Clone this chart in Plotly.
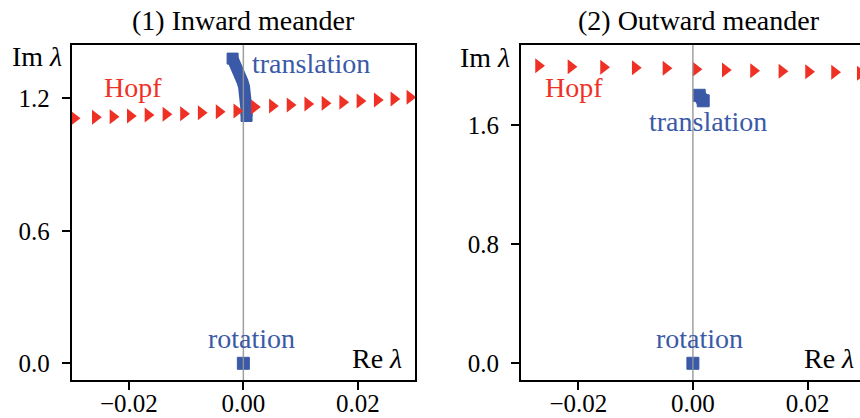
import plotly.graph_objects as go

# ---------------- data ----------------
# Panel (1) Inward meander
hopf1_re = [-0.0296, -0.02588, -0.02279, -0.01977, -0.01668, -0.01354, -0.01047, -0.00738,
            -0.00424, -0.00115, 0.00192, 0.00506, 0.00815, 0.01124, 0.01426, 0.01735,
            0.02037, 0.02339, 0.0263, 0.02909]
hopf1_im = [1.1096, 1.1141, 1.1168, 1.1200, 1.1245, 1.1277, 1.1304, 1.1350,
            1.1395, 1.1427, 1.1608, 1.1653, 1.1698, 1.1743, 1.1775, 1.1820,
            1.1880, 1.1925, 1.1970, 1.2047]
trans1_re = [-0.00188, -0.00150, -0.00115, -0.00080, -0.00045, -0.00015, 0.00012,
             0.00032, 0.00047, 0.00055, 0.00059, 0.00058, 0.00056]
trans1_im = [1.380, 1.362, 1.343, 1.321, 1.298, 1.276, 1.253,
             1.230, 1.207, 1.185, 1.162, 1.141, 1.120]
rot1_re = [0.0]
rot1_im = [0.0]

# Panel (2) Outward meander
hopf2_re = [-0.02695, -0.02129, -0.01560, -0.01007, -0.00471, 0.00052, 0.00564,
            0.01058, 0.01553, 0.02018, 0.02471, 0.02920]
hopf2_im = [1.9987, 1.992, 1.988, 1.985, 1.981, 1.975, 1.970,
            1.965, 1.961, 1.958, 1.954, 1.948]
trans2_re = [0.00110, 0.00145, 0.00180]
trans2_im = [1.800, 1.782, 1.763]
rot2_re = [0.0]
rot2_im = [0.0]

x_tickvals = [-0.02, 0.0, 0.02]
x_ticktext = ["\u22120.02", "0.00", "0.02"]
y1_tickvals = [0.0, 0.6, 1.2]
y1_ticktext = ["0.0", "0.6", "1.2"]
y2_tickvals = [0.0, 0.8, 1.6]
y2_ticktext = ["0.0", "0.8", "1.6"]

titles = ["(1) Inward meander", "(2) Outward meander"]

# ---------------- style ----------------
W, H = 860, 418
BLUE = "#3A5AA8"
RED = "#EE3124"
FONT = "Liberation Serif"
FS_TEXT = 28
FS_TICK = 25


def px(xp):
    return xp / W


def py(yp):
    return 1 - yp / H


fig = go.Figure()


def add_panel(xa, ya, t_re, t_im, r_re, r_im, h_re, h_im, lw, ms):
    n = len(t_re)
    end_sizes = [ms if i in (0, n - 1) else 0 for i in range(n)]
    fig.add_trace(go.Scatter(
        x=t_re, y=t_im, xaxis=xa, yaxis=ya, mode="lines+markers",
        line=dict(color=BLUE, width=lw),
        marker=dict(symbol="square", size=end_sizes, color=BLUE, opacity=1,
                    line=dict(color=BLUE, width=1)),
        showlegend=False, hoverinfo="skip"))
    fig.add_trace(go.Scatter(
        x=r_re, y=r_im, xaxis=xa, yaxis=ya, mode="markers",
        marker=dict(symbol="square", size=12, color=BLUE, opacity=1,
                    line=dict(color=BLUE, width=1)),
        showlegend=False, hoverinfo="skip"))
    fig.add_trace(go.Scatter(
        x=h_re, y=h_im, xaxis=xa, yaxis=ya, mode="markers",
        marker=dict(symbol="triangle-right", size=13, color=RED, opacity=1),
        showlegend=False, hoverinfo="skip"))


add_panel("x", "y", trans1_re, trans1_im, rot1_re, rot1_im, hopf1_re, hopf1_im, 12, 11)
add_panel("x2", "y2", trans2_re, trans2_im, rot2_re, rot2_im, hopf2_re, hopf2_im, 14, 12)

ydom = [1 - 380 / H, 1 - 45 / H]
axis_common = dict(showline=True, linecolor="black", linewidth=2, automargin=False,
                   ticks="outside", ticklen=8, tickwidth=1.6, tickcolor="black",
                   showgrid=False, zeroline=False,
                   tickfont=dict(family=FONT, size=FS_TICK, color="black"))

fig.update_layout(
    template="none",
    width=W, height=H,
    margin=dict(l=0, r=0, t=0, b=0, pad=0),
    paper_bgcolor="white", plot_bgcolor="white",
    font=dict(family=FONT, color="black"),
    xaxis=dict(domain=[71.7 / W, 415 / W], range=[-0.03, 0.03], mirror=True,
               tickvals=x_tickvals, ticktext=x_ticktext, anchor="y",
               ticklabelstandoff=-8, **axis_common),
    yaxis=dict(domain=ydom, range=[-0.0756, 1.4416], mirror=True,
               tickvals=y1_tickvals, ticktext=y1_ticktext, anchor="x",
               ticklabelstandoff=7, **axis_common),
    xaxis2=dict(domain=[521 / W, 1.0], range=[-0.03, -0.03 + 339 / 5730], mirror=True,
                tickvals=x_tickvals, ticktext=x_ticktext, anchor="y2",
                ticklabelstandoff=-8, **axis_common),
    yaxis2=dict(domain=ydom, range=[-0.1122, 2.1377], mirror=False,
                tickvals=y2_tickvals, ticktext=y2_ticktext, anchor="x2",
                ticklabelstandoff=7, **axis_common),
)

# vertical grey line at Re = 0
for xr, yr in [("x", "y domain"), ("x2", "y2 domain")]:
    fig.add_shape(type="line", xref=xr, yref=yr, x0=0, x1=0, y0=0, y1=1,
                  line=dict(color="rgba(150,150,150,0.9)", width=1.5), layer="above")

# text labels (positions in pixels of the page)
labels = [
    (titles[0], 243.3, 21, "center", "black"),
    (titles[1], 699.0, 21, "center", "black"),
    ("Im <i>λ</i>", 63.5, 57, "right", "black"),
    ("Im <i>λ</i>", 512, 58, "right", "black"),
    ("Re <i>λ</i>", 404, 358, "right", "black"),
    ("Re <i>λ</i>", 856, 358, "right", "black"),
    ("Hopf", 101.7, 87, "left", RED),
    ("Hopf", 543.3, 87, "left", RED),
    ("translation", 250, 63, "left", BLUE),
    ("translation", 646.7, 121, "left", BLUE),
    ("rotation", 251.5, 338, "center", BLUE),
    ("rotation", 699.5, 338, "center", BLUE),
]
for text, xp, yp, xanchor, color in labels:
    fig.add_annotation(text=text, xref="paper", yref="paper", x=px(xp), y=py(yp),
                       xanchor=xanchor, yanchor="middle", showarrow=False,
                       font=dict(family=FONT, size=FS_TEXT, color=color))

fig.write_html("out.html")
